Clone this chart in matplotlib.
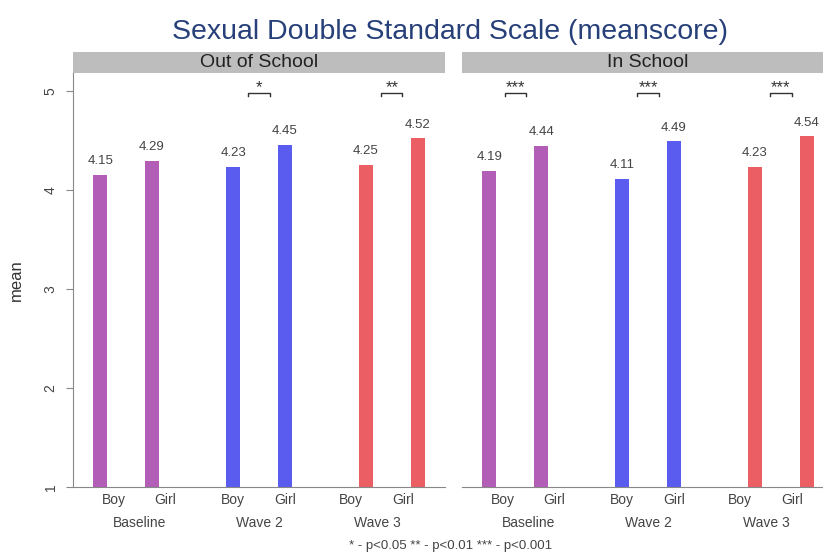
import matplotlib
matplotlib.use("Agg")
import matplotlib.pyplot as plt
from matplotlib.patches import Rectangle

plt.rcParams['font.family'] = ['Liberation Sans', 'DejaVu Sans']

# data
waves = ["Baseline", "Wave 2", "Wave 3"]
sexes = ["Boy", "Girl"]
panels = ["Out of School", "In School"]
out_boy = [4.15, 4.23, 4.25]
out_girl = [4.29, 4.45, 4.52]
in_boy = [4.19, 4.11, 4.23]
in_girl = [4.44, 4.49, 4.54]
out_stars = ["", "*", "**"]
in_stars = ["***", "***", "***"]

colors = ["#b25db6", "#5a5cf0", "#eb5e63"]
lbl_shift = [0.1, 0.0, -0.11]   # label placement in the original is a bit off
gap = 0.195
width = 0.105

fig = plt.figure(figsize=(8.23, 5.54), dpi=100)
fig.text(0.547, 0.943, "Sexual Double Standard Scale (meanscore)",
         ha="center", va="center", fontsize=20.5, color="#27407a")

ax1 = fig.add_axes([0.0887, 0.121, 0.452, 0.747])
ax2 = fig.add_axes([0.5614, 0.121, 0.452, 0.747])

data = [(out_boy, out_girl, out_stars), (in_boy, in_girl, in_stars)]

for ax, title, (boys, girls, stars) in zip([ax1, ax2], panels, data):
    for g in range(len(waves)):
        for k, vals in enumerate([boys, girls]):
            x = g + (-gap if k == 0 else gap)
            v = vals[g]
            ax.bar(x, v - 1, bottom=1, width=width, color=colors[g])
            ax.text(x, v + 0.08, f"{v:.2f}", ha="center", va="bottom",
                    fontsize=9.5, color="#444444")
            ax.text(x + lbl_shift[g], 0.87, sexes[k], ha="center", va="center",
                    fontsize=10, color="#444444")
        ax.text(g + lbl_shift[g], 0.64, waves[g], ha="center", va="center",
                fontsize=10, color="#444444")
        if stars[g]:
            b = 0.08
            ax.plot([g - b, g - b, g + b, g + b], [4.95, 4.98, 4.98, 4.95],
                    color="#333333", lw=1)
            ax.text(g, 4.96, stars[g], ha="center", va="bottom",
                    fontsize=12, color="#333333")

    ax.set_xlim(-0.4, 2.4)
    ax.set_ylim(1, 5.18)
    ax.set_xticks([])
    for s in ["top", "right"]:
        ax.spines[s].set_visible(False)
    ax.spines["bottom"].set_color("#888888")
    ax.spines["left"].set_color("#888888")

    ax.add_patch(Rectangle((0, 1.0), 1, 0.051, transform=ax.transAxes,
                           facecolor="#bdbdbd", edgecolor="none", clip_on=False))
    ax.text(0.5, 1.0255, title, transform=ax.transAxes, ha="center",
            va="center", fontsize=14, color="#222222")

ax1.set_yticks([1, 2, 3, 4, 5])
ax1.set_yticklabels(["1", "2", "3", "4", "5"], rotation=90, va="center",
                    fontsize=10, color="#444444")
ax1.tick_params(axis="y", length=5, color="#888888", pad=6)
ax1.set_ylabel("mean", fontsize=12, color="#333333", labelpad=14)

ax2.spines["left"].set_visible(False)
ax2.set_yticks([])

fig.text(0.547, 0.014, "* - p<0.05 ** - p<0.01 *** - p<0.001",
         ha="center", va="center", fontsize=9.5, color="#444444")

fig.savefig("out.png", dpi=100)
